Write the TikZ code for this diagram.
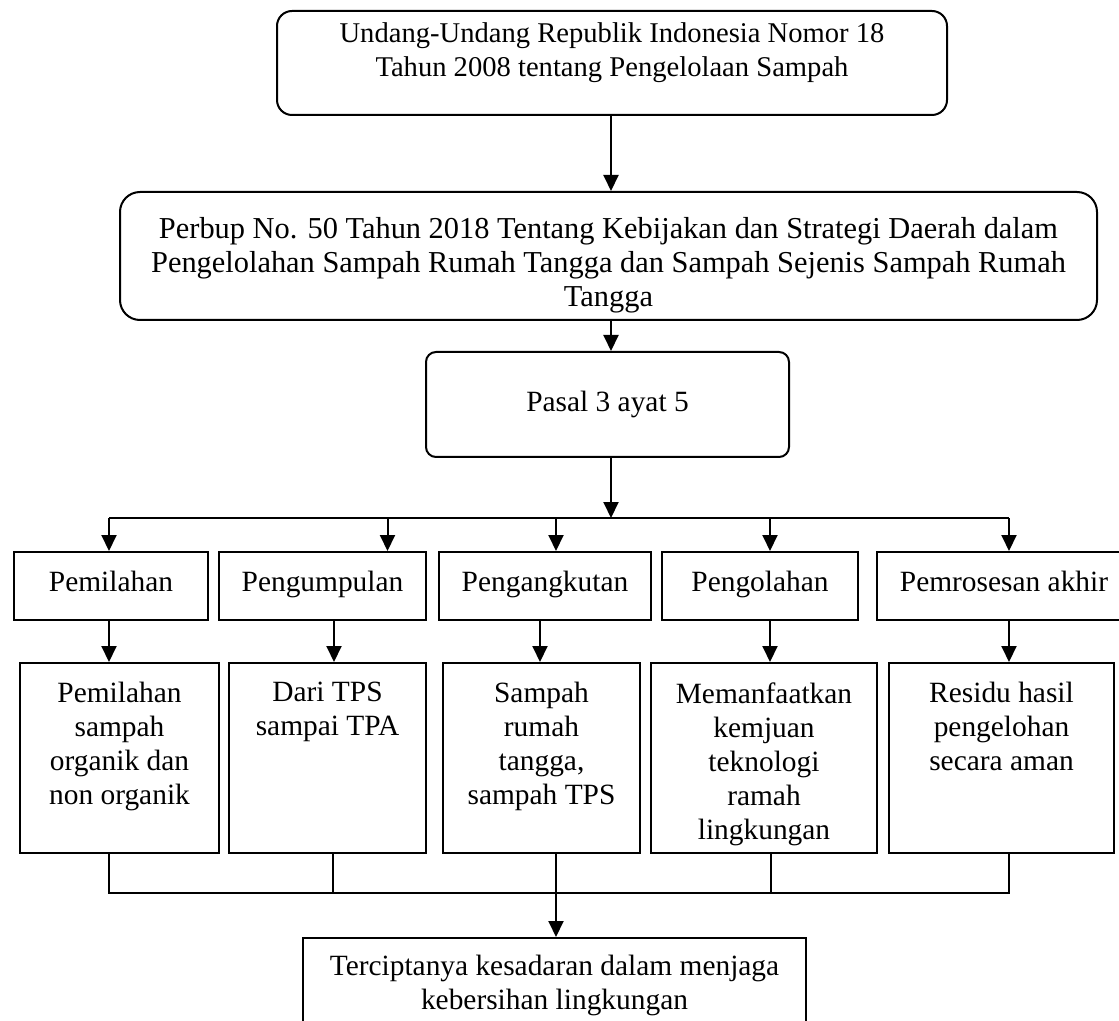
\documentclass[tikz,border=0pt]{standalone}
\usepackage{fontspec}
\setmainfont{Liberation Serif}
\usetikzlibrary{arrows.meta,fit}
\begin{document}
\begin{tikzpicture}[x=0.5pt,y=-0.5pt,
  box/.style={draw, line width=1pt, inner sep=0pt},
  txt/.style={font=\fontsize{14.7pt}{17pt}\selectfont, align=center, inner sep=0pt, anchor=north},
  txtA/.style={txt, font=\fontsize{14.3pt}{17pt}\selectfont},
  txtB/.style={txt, font=\fontsize{15.2pt}{17pt}\selectfont},
  arr/.style={line width=1pt, -{Triangle[width=7.5pt,length=8pt]}},
  thinln/.style={line width=0.6pt}
]
\useasboundingbox (0,0) rectangle (1119,1021);
\clip (0,0) rectangle (1119,1021);
% boxes
\node[box, rounded corners=7.5pt, fit={(277,11) (947,115)}] (A) {};
\node[box, rounded corners=10pt, fit={(120,192) (1097,320)}] (B) {};
\node[box, rounded corners=5pt, fit={(426,352) (789,457)}] (C) {};
\node[box, fit={(14,552) (208,620)}] (P1) {};
\node[box, fit={(219,552) (426,620)}] (P2) {};
\node[box, fit={(439,552) (651,620)}] (P3) {};
\node[box, fit={(662,552) (858,620)}] (P4) {};
\node[box, fit={(877,552) (1131,620)}] (P5) {};
\node[box, fit={(20,663) (219,853)}] (L1) {};
\node[box, fit={(229,663) (426,853)}] (L2) {};
\node[box, fit={(443,663) (640,853)}] (L3) {};
\node[box, fit={(651,663) (877,853)}] (L4) {};
\node[box, fit={(889,663) (1114,853)}] (L5) {};
\node[box, fit={(303,938) (806,1040)}] (F) {};
% texts
\node[txtA] (tA) at (612,22.6) {Undang-Undang Republik Indonesia Nomor 18\\Tahun 2008 tentang Pengelolaan Sampah};
\node[txtB] (tB) at (608.5,217.5) {Perbup No. 50 Tahun 2018 Tentang Kebijakan dan Strategi Daerah dalam\\Pengelolahan Sampah Rumah Tangga dan Sampah Sejenis Sampah Rumah\\Tangga};
\node[txt] (tC) at (607.5,391) {Pasal 3 ayat 5};
\node[txt] (tP1) at (111,571) {Pemilahan};
\node[txt] (tP2) at (322.5,571) {Pengumpulan};
\node[txt] (tP3) at (545,571) {Pengangkutan};
\node[txt] (tP4) at (760,571) {Pengolahan};
\node[txt] (tP5) at (1004,571) {Pemrosesan akhir};
\node[txt] (tL1) at (119.5,682) {Pemilahan\\sampah\\organik dan\\non organik};
\node[txt] (tL2) at (327.5,682) {Dari TPS\\sampai TPA};
\node[txt] (tL3) at (541.5,682) {Sampah\\rumah\\tangga,\\sampah TPS};
\node[txt] (tL4) at (764,682) {Memanfaatkan\\kemjuan\\teknologi\\ramah\\lingkungan};
\node[txt] (tL5) at (1001.5,682) {Residu hasil\\pengelohan\\secara aman};
\node[txt] (tF) at (554.5,955) {Terciptanya kesadaran dalam menjaga\\kebersihan lingkungan};
% connectors top
\coordinate (cx) at (611,0);
\draw[arr] (cx |- A.south) -- (cx |- B.north);
\draw[arr] (cx |- B.south) -- (cx |- C.north);
\coordinate (bus) at (611,518);
\draw[arr] (cx |- C.south) -- (bus);
\coordinate (b1) at (109,518);
\coordinate (b2) at (387.5,518);
\coordinate (b3) at (556,518);
\coordinate (b4) at (770,518);
\coordinate (b5) at (1009,518);
\draw[line width=1pt] (b1) -- (b5);
\draw[arr] (b1) -- (b1 |- P1.north);
\draw[arr] (b2) -- (b2 |- P2.north);
\draw[arr] (b3) -- (b3 |- P3.north);
\draw[arr] (b4) -- (b4 |- P4.north);
\draw[arr] (b5) -- (b5 |- P5.north);
% second level
\coordinate (c1) at (109,640);
\coordinate (c2) at (334,640);
\coordinate (c3) at (540,640);
\coordinate (c4) at (770,640);
\coordinate (c5) at (1009,640);
\draw[arr] (c1 |- P1.south) -- (c1 |- L1.north);
\draw[arr] (c2 |- P2.south) -- (c2 |- L2.north);
\draw[arr] (c3 |- P3.south) -- (c3 |- L3.north);
\draw[arr] (c4 |- P4.south) -- (c4 |- L4.north);
\draw[arr] (c5 |- P5.south) -- (c5 |- L5.north);
% bottom
\coordinate (d1) at (109,893);
\coordinate (d2) at (333,893);
\coordinate (d3) at (771,893);
\coordinate (d4) at (1009,893);
\coordinate (e) at (556,893);
\draw[line width=0.8pt] (d1 |- L1.south) -- (d1) -- (d4) -- (d4 |- L5.south);
\draw[thinln] (d2 |- L2.south) -- (d2);
\draw[thinln] (d3 |- L4.south) -- (d3);
\draw[arr] (e |- L3.south) -- (e |- F.north);
\end{tikzpicture}
\end{document}
